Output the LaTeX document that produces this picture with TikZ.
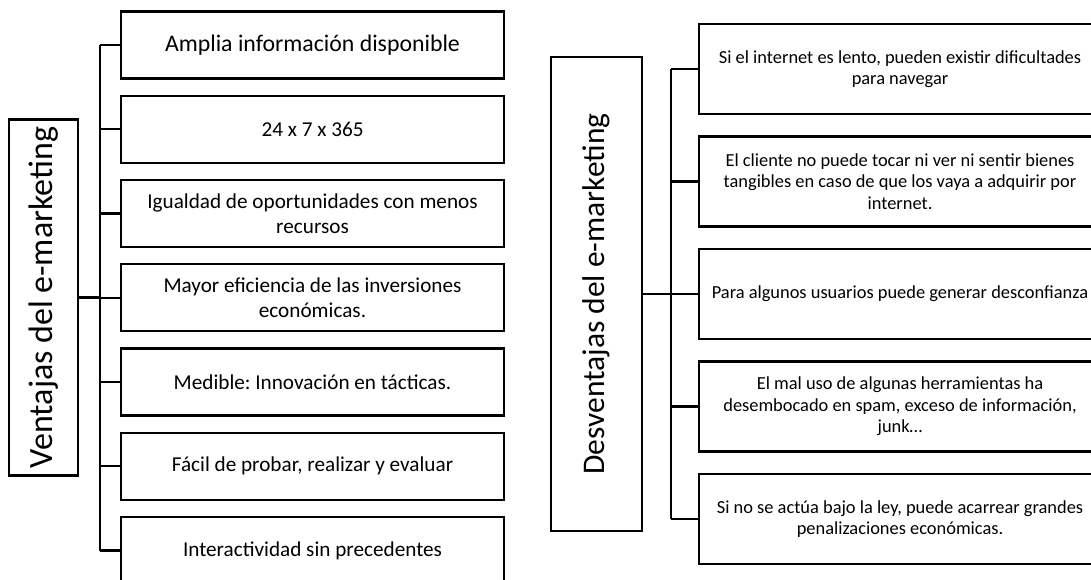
\documentclass[tikz,border=0pt]{standalone}
\usepackage{fontspec}
\setmainfont{Carlito}
\usepackage{graphicx}
\usetikzlibrary{calc,positioning}
\frenchspacing

\begin{document}
\begin{tikzpicture}[x=1pt,y=-1pt,
	titlebox/.style={draw, line width=2.2pt, inner sep=0pt},
	leftbox/.style={draw, line width=2.4pt, minimum width=383pt, minimum height=67pt,
		inner xsep=0pt, align=center, font=\fontsize{21.2}{25.5}\selectfont},
	rightbox/.style={draw, line width=2.4pt, minimum width=402pt, minimum height=90pt,
		inner xsep=0pt, align=center, font=\fontsize{18.4}{21.5}\selectfont},
	link/.style={line width=2.2pt}]
	\clip (0,0) rectangle (1091,580);
	\fill[white] (0,0) rectangle (1091,580);
	% ventajas
	\node[titlebox, minimum width=69pt, minimum height=356pt] (vt) at (43.5,297.5)
		{\rotatebox{90}{\fontsize{34}{36}\selectfont Ventajas del e-marketing}};
	\draw[link] (vt.east) -- ++(21,0) coordinate (vj);
	\foreach \lab [count=\c, evaluate=\c as \yy using {45+84.25*(\c-1)}]
	in {{\fontsize{23.8}{28}\selectfont Amplia información disponible}, {24 x 7 x 365},
		{Igualdad de oportunidades con menos\\recursos},
		{Mayor eficiencia de las inversiones\\económicas.},
		{Medible: Innovación en tácticas.},
		{Fácil de probar, realizar y evaluar},
		{Interactividad sin precedentes}} {
		\node[leftbox] (v\c) at (312.5,\yy) {\lab};
		\draw[link] (vj |- v\c.west) -- (v\c.west);
	}
	\draw[link] (vj |- v1.west) -- (vj |- v7.west);
	% desventajas
	\node[titlebox, minimum width=91pt, minimum height=474pt] (dt) at (596.5,294)
		{\rotatebox{90}{\fontsize{31.5}{34}\selectfont Desventajas del e-marketing}};
	\draw[link] (dt.east) -- ++(28,0) coordinate (dj);
	\foreach \lab [count=\c, evaluate=\c as \yy using {69+112.5*(\c-1)}]
	in {{Si el internet es lento, pueden existir dificultades\\para navegar},
		{El cliente no puede tocar ni ver ni sentir bienes\\tangibles en caso de que los vaya a adquirir por\\internet.},
		{Para algunos usuarios puede generar desconfianza},
		{El mal uso de algunas herramientas ha\\desembocado en spam, exceso de información,\\junk\textellipsis},
		{Si no se actúa bajo la ley, puede acarrear grandes\\penalizaciones económicas.}} {
		\node[rightbox] (d\c) at (900,\yy) {\lab};
		\draw[link] (dj |- d\c.west) -- (d\c.west);
	}
	\draw[link] (dj |- d1.west) -- (dj |- d5.west);
\end{tikzpicture}
\end{document}
